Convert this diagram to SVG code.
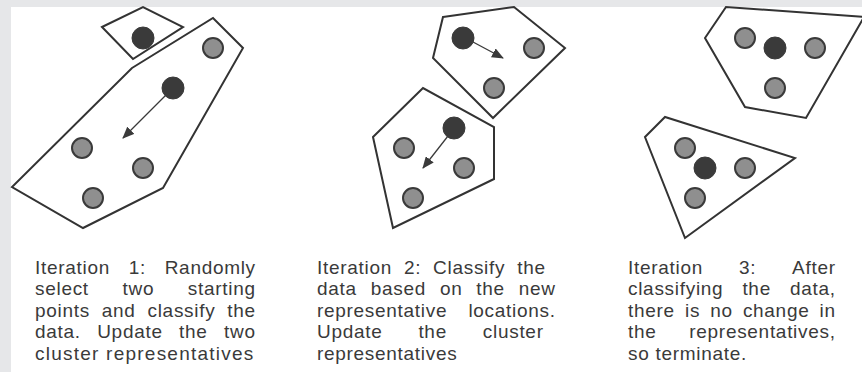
<svg xmlns="http://www.w3.org/2000/svg" width="862" height="372" viewBox="0 0 862 372">
<defs>
<style>
.bg{fill:#e6e7e9}
.poly{fill:#ffffff;stroke:#333333;stroke-width:2;stroke-linejoin:miter}
.g{fill:#8f8f8f;stroke:#3a3a3a;stroke-width:2}
.d{fill:#3a3a3a;stroke:#3a3a3a;stroke-width:1}
.arr{stroke:#3a3a3a;stroke-width:1.3;fill:none;marker-end:url(#ah)}
.t{font-family:"Liberation Sans",Arial,sans-serif;font-size:19px;letter-spacing:0.7px;fill:#3a3a3a}
</style>
<marker id="ah" markerWidth="12" markerHeight="10" refX="11" refY="5" orient="auto" markerUnits="userSpaceOnUse">
<path d="M0,0 L12,5 L0,10 Z" fill="#3a3a3a"/>
</marker>
</defs>
<rect x="0" y="0" width="862" height="372" fill="#ffffff"/>
<rect class="bg" x="0" y="0" width="862" height="7"/>
<rect class="bg" x="0" y="0" width="11" height="372"/>

<g id="panel1">
<polygon class="poly" points="102,27 143,7 183,27 133,59"/>
<polygon class="poly" points="132,68 213,18 243,48 163,188 83,228 12,187"/>
<circle class="d" cx="143" cy="38" r="11"/>
<circle class="g" cx="213" cy="48" r="10"/>
<circle class="d" cx="173" cy="88" r="11"/>
<circle class="g" cx="82" cy="148" r="10"/>
<circle class="g" cx="143" cy="168" r="10"/>
<circle class="g" cx="93" cy="198" r="10"/>
</g>

<g id="panel2">
<polygon class="poly" points="443,17 514,7 565,48 493,118 433,58"/>
<polygon class="poly" points="373,137 423,88 494,127 494,179 393,228"/>
<circle class="d" cx="463" cy="38" r="11"/>
<circle class="g" cx="534" cy="48" r="10"/>
<circle class="g" cx="494" cy="88" r="10"/>
<circle class="d" cx="454" cy="128" r="11"/>
<circle class="g" cx="404" cy="148" r="10"/>
<circle class="g" cx="464" cy="168" r="10"/>
<circle class="g" cx="413" cy="198" r="10"/>
</g>

<g id="panel3">
<polygon class="poly" points="705,38 726,7 864,17 806,118 745,107"/>
<polygon class="poly" points="645,137 665,117 795,158 685,238"/>
<circle class="g" cx="745" cy="38" r="10"/>
<circle class="d" cx="775" cy="48" r="11"/>
<circle class="g" cx="815" cy="48" r="10"/>
<circle class="g" cx="775" cy="88" r="10"/>
<circle class="g" cx="685" cy="148" r="10"/>
<circle class="d" cx="705" cy="168" r="11"/>
<circle class="g" cx="745" cy="168" r="10"/>
<circle class="g" cx="695" cy="198" r="10"/>
</g>

<g id="connectors">
<line class="arr" x1="166" y1="95" x2="123" y2="138"/>
<line class="arr" x1="473" y1="42" x2="503" y2="58"/>
<line class="arr" x1="448" y1="136" x2="423" y2="168"/>
</g>

<g id="caption1">
<text class="t" y="273.5"><tspan x="35">Iteration</tspan><tspan x="128.7">1:</tspan><tspan x="164.7">Randomly</tspan></text>
<text class="t" y="295"><tspan x="35">select</tspan><tspan x="122.5">two</tspan><tspan x="187.8">starting</tspan></text>
<text class="t" y="316.5"><tspan x="35">points</tspan><tspan x="101.8">and</tspan><tspan x="147.5">classify</tspan><tspan x="227.2">the</tspan></text>
<text class="t" y="338"><tspan x="35">data.</tspan><tspan x="97.2">Update</tspan><tspan x="179.1">the</tspan><tspan x="224">two</tspan></text>
<text class="t" y="359.5" x="35" textLength="219" lengthAdjust="spacing">cluster representatives</text>
</g>

<g id="caption2">
<text class="t" y="273.5"><tspan x="317">Iteration</tspan><tspan x="403.9">2:</tspan><tspan x="433.1">Classify</tspan><tspan x="517.2">the</tspan></text>
<text class="t" y="295"><tspan x="317">data</tspan><tspan x="370.7">based</tspan><tspan x="439.9">on</tspan><tspan x="476.3">the</tspan><tspan x="518.7">new</tspan></text>
<text class="t" y="316.5"><tspan x="317">representative</tspan><tspan x="468.4">locations.</tspan></text>
<text class="t" y="338"><tspan x="317">Update</tspan><tspan x="418.4">the</tspan><tspan x="482.8">cluster</tspan></text>
<text class="t" y="359.5"><tspan x="317">representatives</tspan></text>
</g>

<g id="caption3">
<text class="t" y="273.5"><tspan x="628">Iteration</tspan><tspan x="738.9">3:</tspan><tspan x="792.1">After</tspan></text>
<text class="t" y="295"><tspan x="628">classifying</tspan><tspan x="742.4">the</tspan><tspan x="789.9">data,</tspan></text>
<text class="t" y="316.5"><tspan x="628">there</tspan><tspan x="685">is</tspan><tspan x="710.2">no</tspan><tspan x="742.9">change</tspan><tspan x="819.5">in</tspan></text>
<text class="t" y="338"><tspan x="628">the</tspan><tspan x="689.3">representatives,</tspan></text>
<text class="t" y="359.5"><tspan x="628">so terminate.</tspan></text>
</g>
</svg>
